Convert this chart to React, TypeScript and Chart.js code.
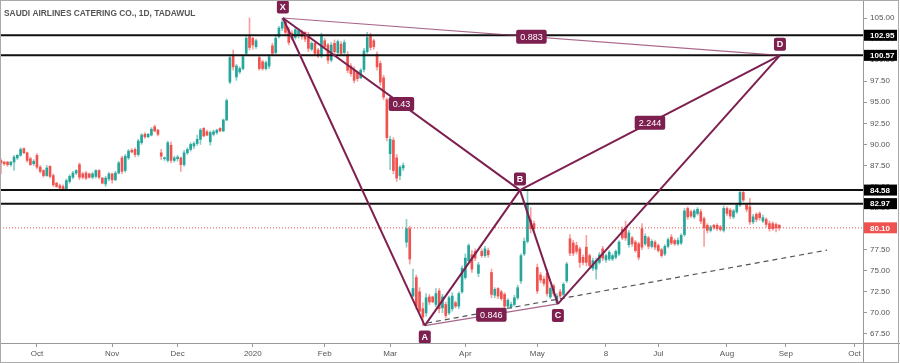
import React, { useEffect, useRef } from 'react';
import { Chart, registerables } from 'chart.js';
Chart.register(...registerables);

const titleText = 'SAUDI AIRLINES CATERING CO., 1D, TADAWUL';

const opens = [88.1,87.9,87.9,87.6,87.9,88.4,88.7,89.5,89.0,88.3,87.7,88.7,87.3,86.9,86.3,87.4,86.3,85.4,85.1,85.0,84.6,85.6,86.1,86.6,87.6,86.5,86.6,86.5,86.1,86.2,86.9,86.0,85.3,85.9,86.5,85.8,86.6,88.4,86.9,88.4,89.3,89.4,88.8,90.2,91.2,90.9,91.1,92.1,91.7,89.0,88.3,88.1,89.9,88.1,88.3,88.4,87.6,89.0,89.4,89.8,90.1,90.6,91.9,91.5,90.3,91.2,91.4,91.9,91.6,92.9,97.4,100.6,98.0,98.6,99.0,100.8,102.8,102.6,101.6,100.3,99.8,99.0,99.3,101.7,100.9,102.8,103.8,104.5,103.6,103.2,102.7,102.9,103.4,103.3,103.0,101.3,102.0,101.2,100.5,102.3,101.8,100.0,102.0,100.9,101.9,100.9,100.6,99.3,98.8,98.5,97.9,98.9,101.0,102.9,102.3,100.7,99.6,97.9,95.3,88.9,90.5,88.4,86.3,87.2,78.4,80.0,72.0,74.2,72.5,70.5,70.0,71.9,71.9,71.0,72.6,70.6,71.0,70.0,70.5,71.2,70.8,72.5,74.2,76.2,76.9,77.3,74.7,77.3,76.8,77.4,74.8,72.1,72.9,72.5,72.2,70.8,70.7,71.0,71.8,73.8,77.0,78.5,81.0,80.6,75.4,74.5,74.0,74.7,71.9,73.2,71.2,72.5,72.2,73.8,78.8,78.3,78.0,77.6,76.6,77.8,76.8,75.3,75.2,76.0,77.6,76.3,76.4,76.4,76.6,77.0,79.9,80.0,78.1,78.9,78.4,78.2,80.0,78.2,78.9,77.9,78.4,78.0,77.5,77.0,77.9,79.0,78.6,78.2,78.3,79.3,82.4,82.0,81.4,81.8,82.0,81.2,80.4,79.8,80.4,80.4,80.2,79.8,82.4,82.2,81.4,82.0,82.8,84.3,82.8,82.6,80.8,81.7,81.8,80.9,81.1,80.6,80.6,80.5,80.4];
const highs = [88.3,88.0,88.0,88.0,88.7,88.8,89.6,89.6,89.1,88.5,88.2,88.9,87.5,87.0,87.5,87.5,86.5,85.5,85.3,85.2,85.9,86.4,86.8,87.0,87.8,86.7,86.8,86.6,86.7,87.0,87.0,86.1,86.2,86.7,86.6,86.8,88.0,88.6,88.8,89.4,89.5,89.6,90.6,91.3,91.4,91.3,92.0,92.3,91.8,89.4,88.5,90.4,90.3,88.6,88.7,88.5,89.3,89.6,90.2,90.3,91.1,91.9,92.0,91.7,91.6,91.7,91.8,92.0,93.0,95.4,100.7,101.2,99.5,99.2,100.6,102.9,105.0,102.7,102.5,100.5,100.0,99.9,100.7,102.0,103.0,104.0,105.0,104.7,103.9,103.5,103.9,103.8,103.6,103.4,103.3,102.2,102.2,101.4,103.2,102.6,102.0,102.1,102.4,102.4,102.2,102.4,101.0,99.6,99.2,98.7,99.0,101.4,103.3,103.2,102.5,101.0,99.9,98.2,95.5,91.0,90.8,88.8,87.5,87.8,81.1,80.3,75.2,74.5,73.0,71.2,72.3,72.2,72.0,72.9,72.9,72.2,71.3,72.0,72.4,71.4,72.5,75.6,77.0,78.2,77.4,77.6,76.0,77.6,77.9,77.7,75.2,73.0,73.0,72.7,72.4,71.7,71.3,72.1,73.3,77.0,78.9,84.6,82.5,80.9,75.8,74.8,74.3,75.1,73.1,73.4,72.3,72.8,73.6,76.0,79.3,78.6,78.4,77.8,76.9,79.2,77.0,76.5,76.5,77.2,77.9,77.0,77.4,77.0,77.5,78.6,80.2,80.9,79.8,79.1,78.6,78.4,80.6,79.4,79.1,78.7,78.6,78.2,77.7,78.1,78.9,79.3,78.8,78.9,79.4,82.4,82.6,82.2,82.3,82.5,82.3,81.4,80.6,80.4,80.5,80.6,80.4,82.7,82.6,82.4,82.3,83.0,84.6,84.5,83.0,83.6,81.7,81.9,82.0,81.6,81.3,80.9,80.8,80.7,80.5];
const lows = [86.5,87.5,87.4,87.4,86.9,88.2,88.6,88.9,87.9,87.5,87.5,87.1,86.6,86.1,86.2,86.0,85.0,84.9,84.6,84.5,84.5,85.4,85.9,86.4,85.8,85.9,85.8,86.0,85.9,86.0,85.9,85.3,85.0,85.7,85.4,85.7,86.5,86.5,86.7,88.2,89.0,88.5,88.6,90.0,90.7,90.8,91.0,91.5,91.0,88.2,88.1,87.9,87.8,87.9,88.0,86.8,87.4,88.8,89.2,89.5,89.9,90.0,90.9,91.0,89.9,91.0,91.2,91.5,91.5,92.8,97.2,98.8,97.6,98.4,98.8,100.6,101.2,101.3,101.4,98.8,98.8,98.8,99.0,100.6,100.7,102.6,103.5,103.0,101.8,102.4,102.5,102.6,102.5,102.2,101.0,101.1,100.6,100.3,100.3,101.4,99.6,99.8,100.7,100.7,100.6,100.7,98.5,98.1,97.3,97.5,97.8,98.6,100.8,101.2,101.3,98.8,97.0,95.3,90.4,87.0,86.5,85.6,85.8,86.9,77.8,75.8,71.9,70.4,69.9,68.5,69.6,71.0,71.2,70.7,70.0,70.0,69.4,69.8,70.2,70.6,70.5,72.3,74.0,76.0,74.8,76.2,74.3,76.6,76.6,76.6,71.8,71.8,71.7,71.5,70.5,70.6,70.5,70.8,71.6,73.5,76.8,78.3,79.5,79.8,72.3,73.6,73.2,72.0,71.7,72.0,71.0,71.8,72.0,73.6,76.8,76.8,77.0,75.4,75.7,75.6,75.4,75.0,74.0,75.8,76.2,76.0,76.2,76.2,76.4,76.8,78.7,78.6,77.8,77.9,77.2,76.3,77.5,78.0,77.6,77.7,77.5,77.2,76.6,76.8,77.7,78.1,78.0,78.0,78.1,79.1,81.1,81.3,81.2,81.6,80.6,77.9,79.5,79.6,79.9,79.8,79.7,79.6,81.5,81.2,81.2,81.8,82.6,83.2,82.0,80.5,80.6,80.8,81.0,80.7,80.2,79.7,79.8,79.6,79.8];
const closes = [87.8,87.7,87.6,87.9,88.5,88.7,89.4,89.0,88.1,87.6,88.0,87.3,86.8,86.3,87.2,86.2,85.2,85.0,84.8,84.7,85.7,86.2,86.6,86.9,86.1,86.1,86.0,86.1,86.5,86.9,86.1,85.4,86.0,86.5,85.8,86.6,87.8,86.8,88.6,89.2,89.1,88.8,90.4,91.1,90.9,91.2,91.8,91.6,91.2,88.6,88.4,90.2,88.1,88.4,88.5,87.6,89.0,89.4,90.0,90.1,90.6,91.7,91.0,91.1,91.4,91.5,91.7,91.6,92.9,95.2,100.3,99.2,99.3,99.0,100.4,102.6,101.5,101.8,102.3,99.0,99.0,99.7,100.4,100.8,102.6,103.8,104.5,103.3,102.1,102.6,103.6,103.5,102.8,102.5,101.4,102.0,100.8,100.5,102.9,101.6,100.0,101.8,101.0,102.2,100.8,102.1,98.8,98.4,97.6,97.8,98.8,101.1,102.7,101.5,101.6,99.2,97.4,95.6,90.8,90.6,86.9,86.0,87.3,87.5,80.0,76.4,72.9,70.8,70.2,69.5,71.8,71.3,71.3,72.3,70.5,71.9,69.7,71.8,72.0,70.8,72.3,75.3,76.5,78.0,75.2,76.5,75.7,76.8,77.6,76.9,72.2,72.8,72.0,71.7,70.8,71.5,71.0,71.8,73.0,76.8,78.5,83.0,80.0,80.0,72.6,73.9,73.5,72.3,72.9,72.3,72.0,72.0,73.4,75.8,77.1,77.1,77.3,76.0,76.0,76.0,75.6,76.2,76.2,76.9,76.5,76.8,77.2,76.8,77.3,78.4,78.9,78.9,79.5,78.2,77.4,76.6,77.8,79.1,77.9,78.5,77.8,77.4,76.8,77.9,78.7,78.3,78.2,78.6,79.2,82.1,81.4,81.5,82.1,82.3,80.9,80.1,79.8,80.2,80.1,80.0,79.9,82.4,81.8,81.5,82.1,82.8,84.3,83.4,82.3,80.8,81.4,81.1,81.3,81.3,80.5,80.0,80.0,80.1,80.1];

const tickBars = [11, 34, 54, 77, 99, 119, 142, 164, 185, 201, 222, 240, 261];
const tickLabels = ['Oct', 'Nov', 'Dec', '2020', 'Feb', 'Mar', 'Apr', 'May', '8', 'Jul', 'Aug', 'Sep', 'Oct'];
const priceTicks = [67.5, 70, 72.5, 75, 77.5, 80, 82.5, 85, 87.5, 90, 92.5, 95, 97.5, 100, 102.5, 105];

const levelPrices = [102.95, 100.57, 84.58, 82.97];
const lastPrice = 80.1;

const patternNames = ['X', 'A', 'B', 'C', 'D'];
const patternBars = [86.2, 129.6, 158.7, 170.3, 238.2];
const patternPrices = [105.0, 68.5, 84.58, 71.07, 100.57];
const patternAbove = [true, false, true, false, true];
const thickLegs = [[0, 1], [1, 2], [2, 3], [3, 4], [0, 2], [2, 4]];
const thinLegs = [[0, 4], [1, 3]];
const ratioLegs = [[0, 2], [1, 3], [2, 4], [0, 4]];
const ratioLabels = ['0.43', '0.846', '2.244', '0.883'];

const trendBars = [130.3, 252.6];
const trendPrices = [68.8, 77.45];

const X_MIN = -0.3;
const X_MAX = 263.6;
const Y_MIN = 66.43;
const Y_MAX = 106.9;

const UP = '#26a69a';
const DOWN = '#ef5350';
const UP_WICK = 'rgba(38,166,154,0.55)';
const DOWN_WICK = 'rgba(239,83,80,0.55)';
const PAT = '#7d1f4f';
const PAT_LIGHT = 'rgba(140,50,100,0.75)';
const FONT = "'Liberation Sans', Arial, sans-serif";

export default function App() {
  const ref = useRef<HTMLCanvasElement>(null);
  useEffect(() => {
    const canvas = ref.current;
    if (!canvas) return;
    const isUp = closes.map((c, i) => c >= opens[i]);

    const datasets: any[] = [];
    datasets.push({
      type: 'bar',
      data: lows.map((l, i) => ({ x: i, y: [l, highs[i]] })),
      backgroundColor: isUp.map((u) => (u ? UP_WICK : DOWN_WICK)),
      barThickness: 1,
      grouped: false,
      order: 20,
    });
    datasets.push({
      type: 'bar',
      data: opens.map((o, i) => ({ x: i, y: [o, closes[i]] })),
      backgroundColor: isUp.map((u) => (u ? UP : DOWN)),
      barThickness: 2,
      minBarLength: 1,
      grouped: false,
      order: 19,
    });
    levelPrices.forEach((p) => {
      datasets.push({
        type: 'line',
        data: [{ x: X_MIN, y: p }, { x: X_MAX, y: p }],
        borderColor: '#111',
        borderWidth: 2,
        pointRadius: 0,
        order: 8,
      });
    });
    datasets.push({
      type: 'line',
      data: [{ x: X_MIN, y: lastPrice }, { x: X_MAX, y: lastPrice }],
      borderColor: DOWN,
      borderWidth: 1,
      borderDash: [1, 2],
      pointRadius: 0,
      order: 9,
    });
    datasets.push({
      type: 'line',
      data: trendBars.map((b, i) => ({ x: b, y: trendPrices[i] })),
      borderColor: '#555',
      borderWidth: 1.2,
      borderDash: [5, 4],
      pointRadius: 0,
      order: 7,
    });
    thinLegs.forEach(([a, b]) => {
      datasets.push({
        type: 'line',
        data: [{ x: patternBars[a], y: patternPrices[a] }, { x: patternBars[b], y: patternPrices[b] }],
        borderColor: PAT_LIGHT,
        borderWidth: 1.2,
        pointRadius: 0,
        order: 3,
      });
    });
    thickLegs.forEach(([a, b]) => {
      datasets.push({
        type: 'line',
        data: [{ x: patternBars[a], y: patternPrices[a] }, { x: patternBars[b], y: patternPrices[b] }],
        borderColor: PAT,
        borderWidth: 2,
        pointRadius: 0,
        order: 2,
      });
    });

    const overlay = {
      id: 'overlay',
      beforeDraw(chart: any) {
        const c = chart.ctx;
        c.save();
        c.fillStyle = '#fff';
        c.fillRect(0, 0, chart.width, chart.height);
        c.restore();
      },
      afterDatasetsDraw(chart: any) {
        const c = chart.ctx;
        const xs = chart.scales.x;
        const ys = chart.scales.y;
        c.save();
        c.textAlign = 'center';
        c.textBaseline = 'middle';
        c.font = `9px ${FONT}`;
        ratioLegs.forEach(([a, b], i) => {
          const x1 = xs.getPixelForValue(patternBars[a]);
          const y1 = ys.getPixelForValue(patternPrices[a]);
          const x2 = xs.getPixelForValue(patternBars[b]);
          const y2 = ys.getPixelForValue(patternPrices[b]);
          const cx = (x1 + x2) / 2;
          const cy = (y1 + y2) / 2;
          const w = c.measureText(ratioLabels[i]).width + 8;
          const h = 14;
          c.fillStyle = PAT;
          c.beginPath();
          c.roundRect(cx - w / 2, cy - h / 2, w, h, 2);
          c.fill();
          c.fillStyle = '#fff';
          c.fillText(ratioLabels[i], cx, cy + 0.5);
        });
        c.font = `bold 9px ${FONT}`;
        patternNames.forEach((n, i) => {
          const px = xs.getPixelForValue(patternBars[i]);
          const py = ys.getPixelForValue(patternPrices[i]);
          const cy = patternAbove[i] ? py - 11 : py + 11.5;
          const w = 12;
          const h = 13;
          c.fillStyle = PAT;
          c.beginPath();
          c.roundRect(px - w / 2, cy - h / 2, w, h, 2);
          c.fill();
          c.fillStyle = '#fff';
          c.fillText(n, px, cy + 0.5);
        });
        c.restore();
      },
      afterDraw(chart: any) {
        const c = chart.ctx;
        const ys = chart.scales.y;
        const area = chart.chartArea;
        c.save();
        c.strokeStyle = '#999';
        c.lineWidth = 1;
        c.beginPath();
        c.moveTo(Math.round(area.right) + 0.5, 0);
        c.lineTo(Math.round(area.right) + 0.5, chart.height);
        c.moveTo(0, Math.round(area.bottom) + 0.5);
        c.lineTo(chart.width, Math.round(area.bottom) + 0.5);
        c.stroke();
        c.strokeStyle = '#aaa';
        c.strokeRect(0.5, 0.5, chart.width - 2, chart.height - 1);
        c.font = `bold 8px ${FONT}`;
        c.textAlign = 'left';
        c.textBaseline = 'middle';
        const box = (p: number, bg: string) => {
          const y = ys.getPixelForValue(p);
          c.fillStyle = bg;
          c.fillRect(area.right + 1, y - 5.5, 33, 11);
          c.fillStyle = '#fff';
          c.fillText(p.toFixed(2), area.right + 7, y + 0.5);
        };
        levelPrices.forEach((p) => box(p, '#000'));
        box(lastPrice, DOWN);
        c.font = `bold 8.4px ${FONT}`;
        c.fillStyle = '#555';
        c.fillText(titleText, 4, 13.7);
        c.restore();
      },
    };

    const chart = new Chart(canvas, {
      type: 'bar',
      data: { datasets },
      options: {
        animation: false,
        responsive: false,
        events: [],
        layout: { padding: { top: 2, left: 0, right: 0, bottom: 0 } },
        plugins: { legend: { display: false }, tooltip: { enabled: false } },
        scales: {
          x: {
            type: 'linear',
            min: X_MIN,
            max: X_MAX,
            offset: false,
            grid: { display: true, drawOnChartArea: false, drawTicks: true, tickLength: 4, color: '#999', offset: false },
            border: { display: false },
            afterBuildTicks: (s: any) => {
              s.ticks = tickBars.map((v) => ({ value: v }));
            },
            afterFit: (s: any) => {
              s.height = 20;
              s.paddingLeft = 0;
              s.paddingRight = 0;
            },
            ticks: {
              autoSkip: false,
              maxRotation: 0,
              padding: 2,
              color: '#555',
              font: { family: FONT, size: 8 },
              callback: (_v: any, i: number) => tickLabels[i],
            },
          },
          y: {
            type: 'linear',
            position: 'right',
            min: Y_MIN,
            max: Y_MAX,
            grid: { display: true, drawOnChartArea: false, drawTicks: true, tickLength: 4, color: '#999' },
            border: { display: false },
            afterBuildTicks: (s: any) => {
              s.ticks = priceTicks.map((v) => ({ value: v }));
            },
            afterFit: (s: any) => {
              s.width = 37;
              s.paddingTop = 0;
              s.paddingBottom = 0;
            },
            ticks: {
              autoSkip: false,
              padding: 3,
              color: '#555',
              font: { family: FONT, size: 8 },
              callback: (v: any) => Number(v).toFixed(2),
            },
          },
        },
      },
      plugins: [overlay],
    } as any);
    return () => chart.destroy();
  }, []);

  return (
    <div style={{ position: 'absolute', left: 0, top: 0, width: 900, height: 363 }}>
      <canvas ref={ref} width={900} height={363} style={{ display: 'block' }} />
    </div>
  );
}
